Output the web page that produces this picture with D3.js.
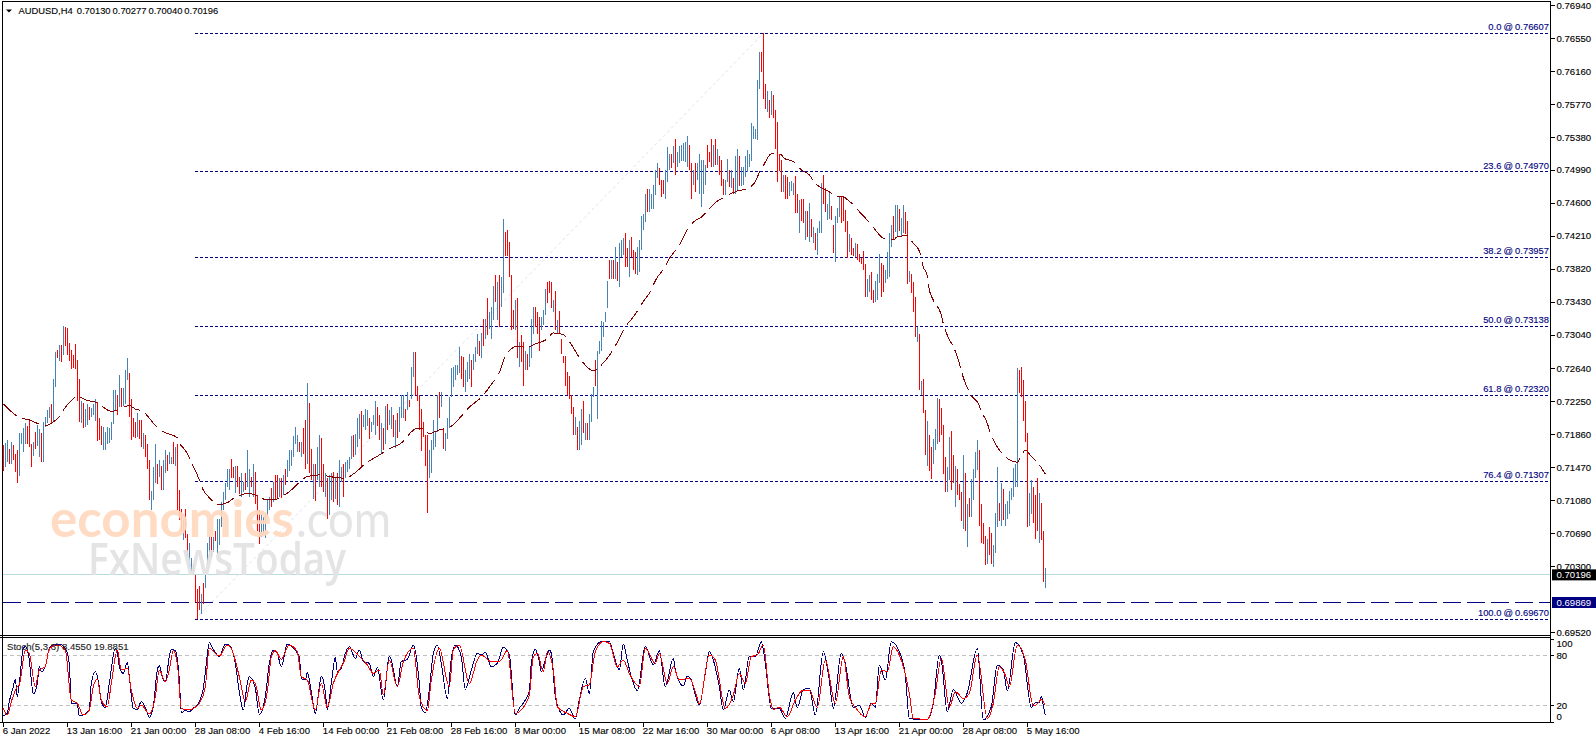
<!DOCTYPE html>
<html><head><meta charset="utf-8">
<script src="https://cdn.jsdelivr.net/npm/d3@7/dist/d3.min.js"></script>
<style>
html,body{margin:0;padding:0;background:#fff;overflow:hidden}
text{font-family:"Liberation Sans",Arial,sans-serif;font-size:9.6px}
</style></head><body><svg id="c" width="1596" height="743"></svg>
<script>
const symbolTitle = "AUDUSD,H4  0.70130 0.70277 0.70040 0.70196";
const stochTitle = "Stoch(5,3,3) 8.4550 19.8851";
// bar highs and lows, in units of 0.0001
const barHigh = [
7173,7176,7179,7169,7177,7173,7163,7167,7187,7188,7193,7199,7196,7202,7175,7177,7189,7197,7192,7187,
7201,7207,7215,7218,7222,7252,7284,7286,7292,7292,7314,7313,7312,7294,7286,7280,7293,7274,7252,7226,
7223,7216,7222,7218,7217,7222,7228,7224,7205,7196,7195,7189,7195,7193,7201,7238,7238,7232,7256,7241,
7241,7262,7276,7259,7228,7205,7200,7211,7203,7203,7187,7185,7175,7155,7119,7147,7175,7151,7155,7149,
7155,7168,7161,7165,7159,7177,7171,7175,7120,7098,7084,7098,7068,7057,7039,7033,7020,7003,7007,6997,
7010,7020,7057,7064,7064,7064,7072,7086,7086,7106,7118,7128,7145,7145,7157,7147,7148,7149,7136,7140,
7130,7140,7167,7145,7136,7151,7141,7114,7096,7092,7088,7092,7108,7112,7122,7130,7138,7138,7134,7134,
7138,7145,7156,7167,7168,7184,7195,7185,7177,7177,7193,7203,7247,7223,7169,7151,7151,7171,7185,7182,
7151,7140,7134,7138,7140,7141,7136,7140,7155,7147,7151,7153,7155,7159,7184,7185,7186,7205,7210,7214,
7209,7216,7215,7205,7201,7209,7226,7218,7209,7199,7193,7220,7222,7215,7218,7209,7203,7211,7218,
7232,7232,7216,7236,7227,7266,7283,7283,7243,7232,7216,7201,7185,7185,7167,7179,7203,7189,7232,7236,
7236,7194,7187,7205,7230,7264,7266,7268,7268,7289,7279,7278,7262,7272,7281,7274,7281,7289,7305,7296,
7306,7323,7323,7347,7331,7337,7362,7374,7366,7374,7372,7441,7426,7428,7414,7375,7333,7345,7347,7295,
7304,7295,7285,7281,7289,7323,7337,7337,7331,7325,7325,7333,7358,7366,7368,7366,7345,7356,7321,7332,
7299,7279,7279,7260,7255,7232,7218,7206,7195,7202,7216,7226,7199,7199,7210,7234,7242,7274,7285,7297,
7320,7319,7331,7368,7392,7392,7392,7408,7390,7412,7416,7418,7424,7406,7416,7420,7404,7402,7408,7416,
7444,7447,7471,7476,7476,7471,7481,7499,7507,7501,7487,7487,7499,7526,7518,7518,7527,7536,7520,7527,
7529,7531,7532,7539,7529,7507,7499,7507,7507,7518,7511,7511,7505,7528,7520,7535,7529,7535,7524,7516,
7511,7488,7487,7512,7499,
7499,7489,7516,7524,7515,7503,7503,7515,7522,7518,7555,7551,7548,7605,7638,7638,7661,7601,7592,7582,
7592,7588,7570,7556,7518,7511,7493,7493,7490,7485,7486,7483,7492,7470,7463,7464,7465,7450,7450,7460,
7441,7431,7424,7430,7438,7483,7493,7477,7459,7474,7456,7434,7445,7454,7467,7467,7466,7452,7438,7423,
7418,7407,7412,7411,7400,7395,7403,7388,7370,7374,7378,7357,7367,7376,7399,7389,7387,7380,7402,7424,
7434,7445,7457,7457,7453,7442,7457,7449,7438,7379,7376,7366,
7348,7313,7305,7249,7251,7215,7202,7185,7171,7180,7192,7229,7228,7217,7197,7159,7147,7183,7190,7161,
7148,7145,7127,7118,7161,7140,7103,7111,7133,7145,7165,7179,7167,7104,7081,7066,7062,7076,7069,7055,
7093,7147,7105,7128,7121,7104,7107,7119,7123,7146,7151,7264,7262,7266,7250,7226,7187,7117,7132,7124,
7114,7134,7117,7105,7072,7028];
const barLow = [
7143,7147,7153,7151,7151,7156,7141,7128,7137,7174,7165,7175,7174,7171,7147,7160,7169,7172,7159,7153,
7153,7195,7199,7205,7199,7201,7242,7276,7273,7271,7280,7290,7280,7273,7263,7264,7263,7226,7201,7199,
7193,7195,7197,7203,7207,7209,7202,7178,7179,7173,7168,7168,7175,7176,7179,7198,7215,7209,7218,7218,
7220,7222,7250,7207,7179,7183,7182,7183,7181,7171,7169,7159,7145,7108,7096,7108,7128,7127,7136,7120,
7120,7140,7143,7151,7151,7151,7149,7096,7085,7072,7061,7063,7042,7029,7023,7021,6987,6967,6978,6973,
6985,7004,7033,7041,7041,7047,7060,7044,7055,7076,7096,7108,7124,7120,7134,7134,7116,7124,7115,7112,
7118,7120,7124,7112,7124,7112,7103,7072,7056,7064,7068,7063,7089,7096,7100,7106,7108,7110,7112,7111,
7114,7126,7136,7143,7149,7159,7175,7165,7165,7159,7163,7145,7151,7140,7132,7110,7107,7132,7124,7124,
7118,7112,7086,7090,7108,7106,7110,7102,7100,7130,7112,7134,7141,7145,7157,7159,7162,7171,7181,7148,
7195,7191,7196,7181,7189,7197,7185,7196,7179,7164,7167,7175,7191,7197,7192,7183,7170,7182,7189,
7205,7205,7202,7215,7218,7228,7254,7232,7226,7191,7166,7183,7149,7093,7134,7140,7167,7171,7189,7205,
7218,7169,7166,7181,7193,7230,7242,7250,7256,7258,7252,7242,7236,7248,7252,7242,7262,7272,7281,7279,
7276,7291,7299,7303,7311,7299,7321,7343,7321,7313,7337,7353,7397,7397,7372,7309,7311,7309,7276,7266,
7272,7243,7262,7262,7266,7276,7305,7313,7305,7285,7309,7315,7327,7341,7353,7335,7331,7309,7305,7305,
7281,7270,7243,7232,7228,7210,7185,7185,7167,7168,7173,7187,7179,7179,7179,7201,7230,7243,7204,7281,
7285,7301,7319,7335,7370,7370,7370,7370,7368,7360,7396,7398,7384,7384,7372,7396,7380,7376,7375,7378,
7404,7428,7437,7449,7449,7453,7453,7469,7489,7481,7467,7471,7465,7485,7499,7501,7507,7493,7502,7507,
7510,7510,7508,7503,7499,7464,7481,7473,7487,7471,7455,7471,7481,7501,7508,7503,7503,7505,7505,7493,
7480,7469,7469,7485,7479,
7477,7471,7471,7475,7480,7480,7481,7491,7497,7503,7510,7536,7536,7534,7595,7615,7583,7571,7568,7561,
7564,7561,7524,7485,7498,7473,7473,7464,7464,7468,7474,7469,7448,7448,7424,7438,7436,7416,7420,7414,
7420,7413,7404,7398,7424,7424,7459,7449,7440,7441,7440,7401,7390,7436,7443,7436,7438,7426,7395,7402,
7398,7397,7396,7392,7390,7388,7380,7349,7349,7355,7345,7342,7343,7345,7365,7349,7355,7365,7370,7372,
7408,7416,7426,7420,7427,7420,7424,7423,7364,7366,7353,7331,
7301,7295,7238,7232,7211,7162,7149,7142,7133,7151,7167,7175,7177,7185,7139,7118,7118,7132,7120,7128,
7100,7114,7108,7083,7074,7072,7053,7088,7088,7108,7134,7144,7078,7057,7056,7031,7032,7043,7033,7029,
7046,7076,7083,7078,7084,7077,7086,7092,7108,7112,7124,7124,7235,7230,7202,7177,7076,7077,7092,7081,
7062,7072,7057,7061,7011,7004];
const barDirection =
"rbbrbrrrbb"+"bbrrrbrbbr"+"bbbbrbbrbr"+"brrrrrrrrb"+"rbbrbbbrrr"+"bbbbbbbrbr"+"bbbrrrrbrr"+"brrrbbbrbr"+"bbrbbrbrrr"+"brrbbbrrrb"+
"rbbbrbrbbb"+"bbbbrrbrrb"+"brbbrbrrrb"+"bbbbrbrrbr"+"brbbbbbbrb"+"rrbrrbrbbr"+"rbrbbrbrbb"+"rbbbbrbbbr"+"bbbrbbbrrb"+"rbrbbrbrb"+
"bbrbrbbrrr"+"rrrrbbbbbr"+"brbbbbbbbb"+"rrbbbrbbbr"+"brbrbbbrbr"+"bbrrrrrbrb"+"rrbrbbbrrr"+"bbbrrrbrbr"+"rrrrrrrbrb"+"brbrbbbrbb"+
"bbbbrbrbrb"+"bbrrbrrrbb"+"bbbrbbbbbr"+"rrbbbrbrbb"+"bbbbrrbrbb"+"bbbrrrbrbr"+"rrbbr"+
"brbbrbbbbb"+"bbbbbrrrbr"+"brrrrrbrrb"+"bbrrbrrbrb"+"rbrbbbrrbb"+"rrbbbrrrrb"+"rrbrrrrrbb"+"rrbbbrrbbb"+"brbbrbbrrb"+"rr"+
"rbrbrrbrrb"+"bbrrrrbbrr"+"brrrbrbrbb"+"bbrrrrbrrb"+"bbrbrbbbbb"+"bbrrrrrbbr"+"rrbrrb";
// moving average: bar index and level (units of 0.0001)
const maBar = [0,3,8,13,17,21,24,28,31,34,37,42,46,50,54,58,63,66,70,73,77,81,87,88,91,95,97,100,103,108,112,115,123,127,131,136,139,143,148,152,159,163,171,175,182,187,195,198,207,210,213,219,222,230,233,239,244,249,250,254,256,262,266,272,275,280,283,288,291,295,299,302,307,311,315,320,323,327,330,333,338,342,346,349,353,357,360,363,367,372,376,378,380,384,388,391,395,399,403,406,409,413,417,420,423,426,429,433,436,440,445,447,452,455,458,460,462,463,465,469,470,473,475,478,479,482,484,488,489,491,494,496,503,507,509,511,514,517,521];
const maValue = [7222,7215,7206,7203,7199,7196,7199,7207,7218,7226,7231,7226,7224,7218,7213,7216,7220,7216,7213,7205,7194,7188,7182,7176,7167,7148,7138,7120,7111,7103,7105,7110,7116,7113,7109,7109,7112,7118,7129,7136,7138,7136,7134,7139,7153,7160,7171,7174,7193,7193,7187,7192,7193,7210,7218,7230,7245,7265,7273,7287,7290,7289,7293,7299,7306,7304,7296,7277,7268,7261,7268,7276,7295,7313,7325,7343,7353,7372,7381,7394,7410,7428,7439,7443,7453,7462,7466,7470,7474,7477,7485,7496,7504,7518,7518,7512,7509,7499,7493,7483,7478,7473,7468,7467,7462,7455,7447,7437,7428,7418,7416,7420,7421,7412,7403,7384,7374,7357,7345,7327,7317,7298,7290,7270,7261,7241,7232,7220,7212,7205,7185,7175,7156,7153,7161,7167,7160,7153,7139];
// stochastic %K and %D: bar index and value
const kBar = [0,2,3,5,6,7,8,10,11,13,14,15,17,18,19,21,23,25,28,31,33,34,37,38,40,43,44,46,48,49,51,53,56,57,58,60,62,63,65,67,69,71,73,75,77,78,80,81,83,84,86,88,89,91,93,95,98,100,102,103,105,108,111,113,116,118,120,122,123,126,128,131,133,135,137,139,142,145,148,149,151,152,154,156,158,159,161,162,164,166,167,169,171,173,176,178,180,183,185,187,190,193,194,197,199,202,205,208,209,211,213,215,217,219,222,224,226,229,231,234,237,239,241,244,247,250,253,256,258,263,264,266,268,269,271,273,274,276,278,280,283,286,288,291,293,295,299,303,305,308,310,312,314,317,321,325,328,331,335,336,338,340,342,344,346,348,351,353,355,358,360,363,365,368,370,373,376,379,381,384,388,391,395,397,400,403,406,410,413,415,419,421,425,428,431,434,436,438,441,444,448,451,453,457,462,465,468,469,472,475,479,482,487,490,494,497,500,502,506,510,514,516,518,519,520,521];
const kValue = [7.6,10.4,24.4,42.4,51.2,30.4,46.4,88.4,90.4,74.4,50.4,33.6,46.4,67.2,60.4,66.4,88.4,92.4,93.6,88.4,70.4,22.4,21.6,7.2,8.4,14.4,46.4,60.4,42.4,24.4,17.6,46.4,88.4,84.4,66.4,58.4,71.2,54.4,16.4,15.2,24.4,17.6,5.6,18.4,62.4,67.6,50.4,48.4,78.4,87.2,85.6,50.4,11.2,13.6,12.4,16.4,24.4,40.4,80.4,95.2,87.2,78.4,93.6,92.4,70.4,36.4,14.4,46.4,54.4,40.4,9.2,30.4,70.4,86.4,82.4,66.4,93.6,88.4,78.4,52.4,50.4,59.2,36.4,10.4,42.4,55.2,36.4,15.2,46.4,77.6,60.4,64.4,82.4,90.4,76.4,86.4,72.4,70.4,54.4,65.6,26.4,79.2,74.4,42.4,72.4,75.2,92.4,46.4,17.6,11.2,38.4,82.4,92.4,70.4,28.4,76.4,92.4,78.4,39.2,62.4,82.4,80.4,83.6,66.4,70.4,89.6,80.4,8.4,16.4,36.4,70.4,87.2,72.4,60.4,74.4,86.4,82.4,30.4,14.4,8.4,16.4,3.6,26.4,52.4,34.4,84.4,96.4,96.4,82.4,62.4,93.6,74.4,54.4,37.6,91.2,68.4,85.6,42.4,76.4,62.4,48.4,43.2,55.2,50.4,32.4,20.4,58.4,84.4,74.4,42.4,14.4,38.4,24.4,64.4,38.4,78.4,78.4,96.4,70.4,16.4,16.4,4.4,35.2,17.6,39.2,40.4,8.4,84.4,50.4,16.4,82.4,70.4,17.6,20.4,5.6,22.4,17.6,68.4,50.4,96.4,84.4,56.4,4.4,3.2,3.2,22.4,80.4,74.4,12.4,39.2,22.4,35.2,88.4,2.4,18.4,68.4,62.4,37.6,95.2,80.4,17.6,23,23,31,20,8.455];
const dBar = [0,2,4,7,8,11,13,16,18,21,23,27,31,34,37,40,43,45,47,49,52,54,57,59,62,64,67,69,73,76,78,81,83,85,87,89,92,95,98,101,103,108,112,114,118,121,124,126,129,132,134,136,139,143,147,149,152,156,159,162,165,168,170,173,178,182,185,188,190,193,197,200,205,208,212,214,218,223,225,228,233,237,239,244,248,252,256,258,263,265,267,270,272,275,277,282,286,290,293,296,300,303,307,310,313,318,321,326,328,332,335,338,343,347,348,353,356,361,365,368,371,374,377,380,383,385,388,392,396,400,403,407,411,416,420,423,426,431,434,436,439,442,445,448,453,455,462,466,469,473,476,480,483,487,492,495,498,501,503,507,511,515,517,519,521];
const dValue = [16.4,8.4,24.4,42.4,44.4,86.4,82.4,42.4,62.4,66.4,88.4,92.4,86.4,26.4,22.4,8.4,14.4,42.4,51.2,26.4,18.4,46.4,86.4,62.4,64.4,38.4,16.4,20.4,9.6,30.4,62.4,48.4,62.4,85.6,70.4,16.4,14.4,16.4,22.4,42.4,88.4,79.2,92.4,88.4,54.4,24.4,50.4,46.4,14.4,36.4,78.4,85.6,75.2,92.4,84.4,54.4,50.4,14.4,46.4,17.6,46.4,62.4,70.4,88.4,79.2,68.4,58.4,62.4,32.4,74.4,42.4,72.4,88.4,30.4,13.6,50.4,88.4,42.4,86.4,92.4,46.4,74.4,80.4,72.4,72.4,85.6,10.4,12.4,32.4,78.4,82.4,60.4,84.4,62.4,18.4,10.4,6.4,42.4,44.4,84.4,96.4,94.4,66.4,74.4,58.4,42.4,88.4,70.4,82.4,46.4,66.4,50.4,52.4,28.4,21.6,80.4,74.4,16.4,32.4,58.4,46.4,78.4,80.4,92.4,32.4,15.2,17.6,6.4,26.4,38.4,38.4,17.6,74.4,22.4,78.4,30.4,17.6,6.4,21.6,22.4,62.4,60.4,90.4,80.4,34.4,4.4,3.2,34.4,76.4,17.6,36.4,28.4,34.4,80.4,4.4,22.4,66.4,56.4,42.4,92.4,74.4,19.4,21.6,27,19.885];
// Fibonacci retracement
const fibLevels = [0.0,23.6,38.2,50.0,61.8,76.4,100.0];
const fibPrices = [0.76607,0.74970,0.73957,0.73138,0.72320,0.71307,0.69670];
const lastPrice = 0.70196;
const supportPrice = 0.69869;
const priceTicks = [0.76940,0.76550,0.76160,0.75770,0.75380,0.74990,0.74600,0.74210,0.73820,0.73430,0.73040,0.72640,0.72250,0.71860,0.71470,0.71080,0.70690,0.70300,0.69520];
const stochTicks = [100,80,20,0];
const stochLevels = [80,20];
const timeTickBars = [0,32,64,96,128,160,192,224,256,288,320,352,384,416,448,480,512];
const timeLabels = ["6 Jan 2022","13 Jan 16:00","21 Jan 00:00","28 Jan 08:00","4 Feb 16:00","14 Feb 00:00","21 Feb 08:00","28 Feb 16:00","8 Mar 00:00","15 Mar 08:00","22 Mar 16:00","30 Mar 00:00","6 Apr 08:00","13 Apr 16:00","21 Apr 00:00","28 Apr 08:00","5 May 16:00"];

const svg = d3.select("#c");
const defs = svg.append("defs");
defs.append("filter").attr("id","soft").append("feGaussianBlur").attr("stdDeviation",0.7);
const left = 2.5, right = 1550.5;
const x = d3.scaleLinear().domain([0,521]).range([3.3,1045.3]);
const y = d3.scaleLinear().domain([0.69670,0.76607]).range([619.3,33.3]);
const py = v => y(v/10000);
const s = d3.scaleLinear().domain([0,100]).range([722,638.7]);
const navy = "#000080", up = "#4682b4", down = "#ff0000", ma = "#800000";
const bars = barHigh.map((h,i)=>({i,h,l:barLow[i],d:barDirection[i]}));

// reference lines
svg.append("line").attr("x1",left).attr("x2",right).attr("y1",y(lastPrice)).attr("y2",y(lastPrice))
  .attr("stroke","#b8dcdc").attr("shape-rendering","crispEdges");
svg.append("line").attr("x1",x(96)).attr("x2",x(380)).attr("y1",y(0.69670)).attr("y2",y(0.76607))
  .attr("stroke","#e0e0f2").attr("stroke-dasharray","3,3");
svg.selectAll(".fib").data(fibPrices).join("line").attr("class","fib")
  .attr("x1",x(96)).attr("x2",right-1).attr("y1",d=>y(d)).attr("y2",d=>y(d))
  .attr("stroke",navy).attr("stroke-dasharray","3,2").attr("shape-rendering","crispEdges");
svg.selectAll(".fibt").data(fibPrices).join("text").attr("class","fibt")
  .attr("x",right-1.5).attr("y",d=>y(d)-3).attr("text-anchor","end").attr("fill",navy)
  .style("font-size","9.4px").style("word-spacing","-0.5px").attr("stroke",navy).attr("stroke-width",0.12)
  .text((d,i)=>fibLevels[i].toFixed(1)+" @ "+d.toFixed(5));
svg.append("line").attr("x1",left).attr("x2",right).attr("y1",y(supportPrice)).attr("y2",y(supportPrice))
  .attr("stroke",navy).attr("stroke-dasharray","18,6").attr("shape-rendering","crispEdges");

// price bars
svg.append("g").selectAll("line").data(bars).join("line")
  .attr("x1",d=>x(d.i)).attr("x2",d=>x(d.i)).attr("y1",d=>py(d.h)).attr("y2",d=>py(d.l))
  .attr("stroke",d=>d.d==="b"?up:down).attr("shape-rendering","crispEdges");

// moving average
svg.append("path").datum(maBar.map((b,i)=>[b,maValue[i]]))
  .attr("d",d3.line().curve(d3.curveMonotoneX).x(d=>x(d[0])).y(d=>py(d[1])))
  .attr("fill","none").attr("stroke",ma).attr("stroke-width",1).attr("stroke-dasharray","18,6").attr("shape-rendering","crispEdges");

// watermark drawn over the marks
const wm = svg.append("g").attr("opacity",0.92).attr("filter","url(#soft)");
wm.append("text").attr("x",50).attr("y",537).text("economies").attr("textLength",244).attr("lengthAdjust","spacingAndGlyphs")
  .style("font-family","Lato, 'Open Sans', sans-serif").style("font-size","52px").style("font-weight","700").attr("fill","#ffd8be");
wm.append("text").attr("x",296).attr("y",537).text(".com").attr("textLength",95).attr("lengthAdjust","spacingAndGlyphs")
  .style("font-family","Lato, 'Open Sans', sans-serif").style("font-size","50px").attr("fill","#e2e2e2");
wm.append("text").attr("x",88).attr("y",575).text("FxNewsToday").attr("textLength",258).attr("lengthAdjust","spacingAndGlyphs")
  .style("font-family","'Open Sans', sans-serif").style("font-size","46px").style("font-weight","600").attr("fill","#e2e2e2");

// header
svg.append("path").attr("d","M6,9.5h6l-3,3z").attr("fill","#000");
svg.append("text").attr("x",18.5).attr("y",14).attr("xml:space","preserve").style("white-space","pre").style("font-size","9.4px").style("word-spacing","-0.6px")
  .attr("fill","#000").attr("stroke","#000").attr("stroke-width",0.12).text(symbolTitle);

// stochastic
svg.selectAll(".lvl").data(stochLevels).join("line").attr("class","lvl")
  .attr("x1",left).attr("x2",right).attr("y1",d=>s(d)).attr("y2",d=>s(d))
  .attr("stroke","#c0c0c0").attr("stroke-dasharray","4,3").attr("shape-rendering","crispEdges");
const sl = d3.line().curve(d3.curveMonotoneX).x(d=>x(d[0])).y(d=>s(d[1]));
svg.append("path").datum(kBar.map((b,i)=>[b,kValue[i]])).attr("d",sl).attr("fill","none").attr("stroke",navy).attr("shape-rendering","crispEdges");
svg.append("path").datum(dBar.map((b,i)=>[b,dValue[i]])).attr("d",sl).attr("fill","none").attr("stroke",down).attr("shape-rendering","crispEdges");
svg.append("text").attr("x",7).attr("y",650).attr("fill","#222").attr("stroke","#222").attr("stroke-width",0.12).text(stochTitle);

// frames
const frame = (x1,y1,x2,y2,w)=>svg.append("line").attr("x1",x1).attr("y1",y1).attr("x2",x2).attr("y2",y2)
  .attr("stroke","#000").attr("stroke-width",w).attr("shape-rendering","crispEdges");
frame(left,1.5,right,1.5,1); frame(left,1,left,722.5,1);
frame(0,635.5,right+.5,635.5,1); frame(0,637.5,right+.5,637.5,1);
frame(0,722.5,right,722.5,1);

// axes
const styleAxis = g => { g.select(".domain").attr("stroke","#000").attr("shape-rendering","crispEdges");
  g.selectAll(".tick line").attr("stroke","#000").attr("shape-rendering","crispEdges");
  g.selectAll("text").style("font-family",'"Liberation Sans",Arial,sans-serif').style("font-size","9.6px").attr("fill","#000").attr("stroke","#000").attr("stroke-width",0.12); };
svg.append("g").attr("transform",`translate(${right},0)`)
  .call(d3.axisRight(y).tickValues(priceTicks).tickFormat(d3.format(".5f")).tickSize(4).tickPadding(2))
  .call(g=>g.select(".domain").remove())
  .call(styleAxis);
frame(right,1.5,right,722.5,1);
svg.append("g").attr("transform",`translate(${right},0)`)
  .call(d3.axisRight(s).tickValues(stochTicks).tickSize(3).tickPadding(3))
  .call(g=>g.select(".domain").remove())
  .call(styleAxis)
  .call(g=>g.selectAll(".tick text").attr("y",d=>d===100?5:d===0?-6:0));
svg.append("g").attr("transform",`translate(0,722.5)`)
  .call(d3.axisBottom(x).tickValues(timeTickBars).tickFormat((d,i)=>timeLabels[i]).tickSize(4).tickPadding(1))
  .call(g=>g.select(".domain").remove())
  .call(styleAxis)
  .call(g=>g.selectAll(".tick text").attr("text-anchor","start").attr("x",-1));

// price flags
const flag=(v,fill)=>{ const c=y(v);
  svg.append("rect").attr("x",1552).attr("y",c-5.5).attr("width",44).attr("height",11).attr("fill",fill);
  svg.append("text").attr("x",1556.5).attr("y",c+3.5).attr("fill","#fff").text(v.toFixed(5)); };
flag(lastPrice,"#000"); flag(supportPrice,navy);
</script></body></html>
